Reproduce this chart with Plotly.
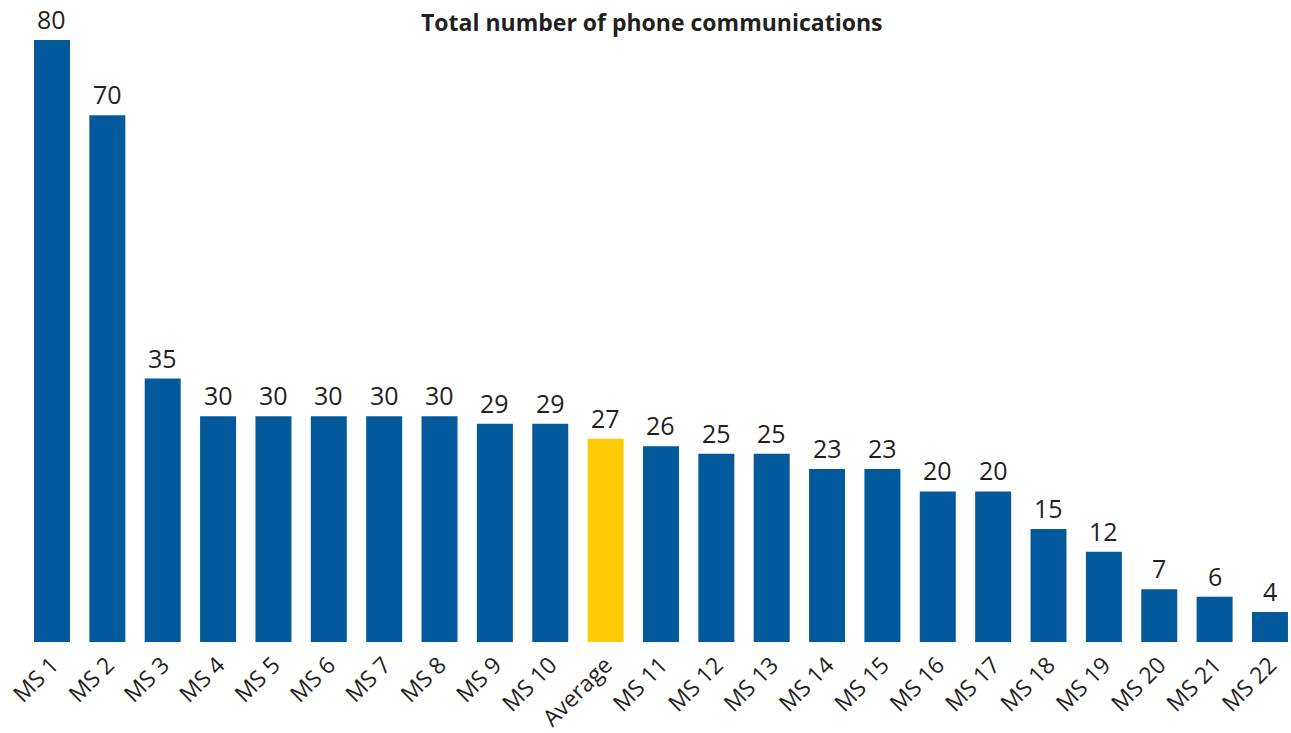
import plotly.graph_objects as go

# Phone communications per member state, with the average bar highlighted
categories = ["MS 1", "MS 2", "MS 3", "MS 4", "MS 5", "MS 6", "MS 7", "MS 8",
              "MS 9", "MS 10", "Average", "MS 11", "MS 12", "MS 13", "MS 14",
              "MS 15", "MS 16", "MS 17", "MS 18", "MS 19", "MS 20", "MS 21", "MS 22"]
values = [80, 70, 35, 30, 30, 30, 30, 30, 29, 29, 27, 26, 25, 25, 23, 23,
          20, 20, 15, 12, 7, 6, 4]

BLUE = "#02599c"
YELLOW = "#ffcb05"
TEXT = "#231f20"

colors = [YELLOW if c == "Average" else BLUE for c in categories]

fig = go.Figure(
    go.Bar(
        x=categories,
        y=values,
        marker=dict(color=colors, line=dict(width=0)),
        cliponaxis=False,
        width=0.65,
        hoverinfo="x+y",
    )
)

# value labels above each bar, anchored to the bar's own value
value_labels = [
    dict(
        x=c, y=v, xref="x", yref="y",
        text=str(v),
        showarrow=False,
        xanchor="center", yanchor="bottom",
        yshift=3,
        borderpad=0,
        font=dict(family="Open Sans", size=25, color=TEXT),
    )
    for c, v in zip(categories, values)
]

title = dict(
    text="<b>Total number of phone communications</b>",
    x=652 / 1291, xref="paper",
    y=1 - 22 / 642, yref="paper",
    xanchor="center", yanchor="middle",
    showarrow=False,
    font=dict(family="Open Sans", size=23, color=TEXT),
)

fig.update_layout(
    width=1291,
    height=733,
    margin=dict(l=0, r=0, t=0, b=91),
    paper_bgcolor="white",
    plot_bgcolor="white",
    showlegend=False,
    annotations=[title] + value_labels,
)

fig.update_xaxes(
    range=[-0.939, 22.38],
    tickangle=-45,
    tickfont=dict(family="Open Sans", size=23, color=TEXT),
    ticklabelstandoff=4,
    showline=False,
    showgrid=False,
    ticks="",
    fixedrange=True,
)
fig.update_yaxes(
    range=[0, 85.3],
    visible=False,
    showgrid=False,
    zeroline=False,
)

fig.write_html("out.html")
